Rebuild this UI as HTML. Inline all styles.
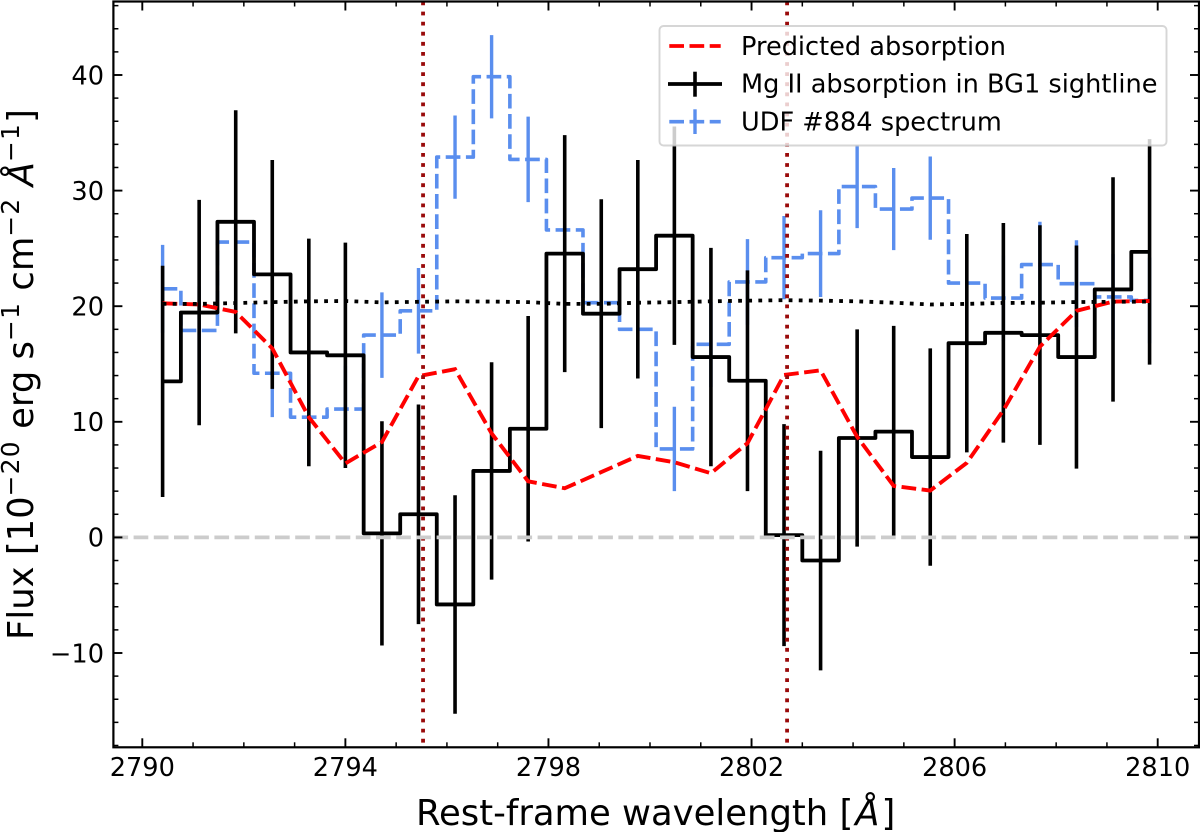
<!DOCTYPE html>
<html lang="en">
<head>
<meta charset="utf-8">
<title>Mg II absorption spectrum</title>
<style>
html,body{margin:0;padding:0;background:#fff;}
svg{display:block;}
text{font-family:"DejaVu Sans","Liberation Sans",sans-serif;fill:#000;}
.tick{font-size:25.6px;}
.lab{font-size:35.4px;}
.leg{font-size:25.6px;}
.sup{font-size:24.8px;letter-spacing:1.3px;}
</style>
</head>
<body>
<svg id="chart" xmlns="http://www.w3.org/2000/svg" width="1200" height="832" viewBox="0 0 1200 832">
  <rect x="0" y="0" width="1200" height="832" fill="#fff"/>
  <g id="series"></g>
  <g id="axes"></g>
  <text class="lab" x="416" y="825">Rest-frame wavelength [<tspan font-style="italic" dx="2">Å</tspan><tspan dx="2">]</tspan></text>
  <text class="lab" transform="translate(33,640) rotate(-90)">Flux [10<tspan class="sup" dy="-14">−20</tspan><tspan dy="14"> erg s</tspan><tspan class="sup" dy="-14">−1</tspan><tspan dy="14"> cm</tspan><tspan class="sup" dy="-14">−2</tspan><tspan dy="14"> </tspan><tspan font-style="italic">Å</tspan><tspan class="sup" dy="-14">−1</tspan><tspan dy="14">]</tspan></text>
  <g>
    <rect x="659.5" y="26" width="507" height="119.5" rx="4" ry="4" fill="#fff" fill-opacity="0.8" stroke="#ccc" stroke-opacity="0.8" stroke-width="1.9"/>
    <line x1="669.3" y1="46" x2="720.7" y2="46" stroke="#ff0000" stroke-width="3.8" stroke-dasharray="14.7 5.5"/>
    <text class="leg" x="741" y="55">Predicted absorption</text>
    <line x1="668" y1="84" x2="722" y2="84" stroke="#000" stroke-width="3.8"/>
    <line x1="695" y1="71.7" x2="695" y2="96.7" stroke="#000" stroke-width="3.6"/>
    <text class="leg" x="741" y="92.7">Mg II absorption in BG1 sightline</text>
    <line x1="669.3" y1="121.7" x2="720.7" y2="121.7" stroke="#5a8eee" stroke-width="3.6" stroke-dasharray="14.7 5.5"/>
    <line x1="695" y1="109.3" x2="695" y2="134" stroke="#5a8eee" stroke-width="3.4"/>
    <text class="leg" x="741" y="130.4">UDF #884 spectrum</text>
  </g>
</svg>
<script>
// Chart data
const binStart = 2790.4;
const binWidth = 0.72;
const blackFlux = [13.5,19.45,27.3,22.75,16.0,15.75,0.35,2.0,-5.8,5.75,9.4,24.55,19.35,23.2,26.1,15.6,13.55,0.2,-2.0,8.6,9.15,6.95,16.8,17.7,17.5,15.6,21.45,24.7];
const blackErr = [10.0,9.75,9.65,9.9,9.85,9.75,9.7,9.5,9.45,9.4,9.75,10.25,9.9,9.45,9.45,9.45,9.55,9.6,9.5,9.4,9.15,9.4,9.45,9.5,9.5,9.65,9.7,9.75];
const blueFlux = [21.5,17.9,25.55,14.2,10.4,11.1,17.5,19.6,32.9,39.85,32.7,26.6,20.3,18.0,7.65,16.7,22.1,24.2,24.55,30.35,28.4,29.35,22.0,20.7,23.6,21.95,20.8,20.5];
const blueErr = [3.8,3.8,3.8,3.8,3.75,3.75,3.7,3.7,3.6,3.6,3.7,3.8,3.7,3.7,3.65,3.7,3.7,3.6,3.75,3.6,3.55,3.6,3.7,3.7,3.7,3.75,3.7,3.7];
const predictedFlux = [20.25,20.15,19.5,16.35,10.4,6.4,8.25,13.95,14.55,9.0,4.85,4.25,5.65,7.05,6.5,5.55,8.15,14.05,14.45,8.7,4.45,4.05,6.45,11.0,16.5,19.6,20.4,20.45];
const continuumFlux = [20.2,20.2,20.27,20.35,20.42,20.45,20.33,20.38,20.42,20.4,20.35,20.2,20.2,20.3,20.35,20.42,20.48,20.52,20.48,20.42,20.3,20.15,20.2,20.28,20.3,20.36,20.38,20.4];
const lineCenters = [2795.53,2802.7];
const zeroLevel = [0];
const xMajorTicks = [2790,2794,2798,2802,2806,2810];
const xMinorTicks = [2791,2792,2793,2795,2796,2797,2799,2800,2801,2803,2804,2805,2807,2808,2809];
const yMajorTicks = [-10,0,10,20,30,40];
const yMinorTicks = [-18,-16,-14,-12,-8,-6,-4,-2,2,4,6,8,12,14,16,18,22,24,26,28,32,34,36,38,42,44,46];

// Axis functions
const plot = {left:113.4,right:1199,top:1.5,bottom:747.3};
const xScale = v => 142.3 + (v - 2790) * 50.77;
const yScale = v => 537.4 - v * 11.56;
const binCenters = blackFlux.map((_, i) => binStart + i * binWidth);

const NS = 'http://www.w3.org/2000/svg';
const seriesG = document.getElementById('series');
const axesG = document.getElementById('axes');

function make(parent, tag, attrs){
  const node = document.createElementNS(NS, tag);
  for (const k in attrs) node.setAttribute(k, attrs[k]);
  parent.appendChild(node);
  return node;
}
function stepPath(values){
  let d = 'M' + xScale(binCenters[0]).toFixed(2) + ' ' + yScale(values[0]).toFixed(2);
  for (let i = 1; i < values.length; i++){
    const mid = xScale((binCenters[i-1] + binCenters[i]) / 2).toFixed(2);
    d += 'H' + mid + 'V' + yScale(values[i]).toFixed(2);
  }
  d += 'H' + xScale(binCenters[values.length-1]).toFixed(2);
  return d;
}
function linePath(values){
  return values.map((v, i) => (i ? 'L' : 'M') + xScale(binCenters[i]).toFixed(2) + ' ' + yScale(v).toFixed(2)).join('');
}

// UDF spectrum
const blueStep = make(seriesG, 'path', {d:stepPath(blueFlux), fill:'none', stroke:'#5a8eee', 'stroke-width':3.6, 'stroke-dasharray':'14.7 5.5', 'stroke-linejoin':'round'});


blueFlux.forEach((v, i) => {
  const bar = make(seriesG, 'line', {x1:xScale(binCenters[i]), x2:xScale(binCenters[i]), y1:yScale(v - blueErr[i]), y2:yScale(v + blueErr[i]), stroke:'#5a8eee', 'stroke-width':3.4});
  
  
});

// Mg II absorption
blackFlux.forEach((v, i) => {
  const bar = make(seriesG, 'line', {x1:xScale(binCenters[i]), x2:xScale(binCenters[i]), y1:yScale(v - blackErr[i]), y2:yScale(v + blackErr[i]), stroke:'#000', 'stroke-width':3.6});
  
  
});
const blackStep = make(seriesG, 'path', {d:stepPath(blackFlux), fill:'none', stroke:'#000', 'stroke-width':3.8, 'stroke-linejoin':'round', 'stroke-linecap':'butt'});



// Predicted absorption
const redLine = make(seriesG, 'path', {d:linePath(predictedFlux), fill:'none', stroke:'#ff0000', 'stroke-width':3.9, 'stroke-dasharray':'14.7 5.5'});



// Continuum
const dotted = make(seriesG, 'path', {d:linePath(continuumFlux), fill:'none', stroke:'#000', 'stroke-width':3.8, 'stroke-dasharray':'3.8 6.3'});



// Rest wavelengths of the doublet
lineCenters.forEach(v => {
  const ln = make(seriesG, 'line', {x1:xScale(v), x2:xScale(v), y1:plot.top, y2:plot.bottom, stroke:'#990a0a', 'stroke-width':3.8, 'stroke-dasharray':'3.8 6.3'});
  
  
});

// Zero level
zeroLevel.forEach(v => {
  const ln = make(seriesG, 'line', {x1:plot.left, x2:plot.right, y1:yScale(v), y2:yScale(v), stroke:'#cccccc', 'stroke-width':3.8, 'stroke-dasharray':'14.7 5.5'});
  
  
});

// Ticks
xMajorTicks.forEach(v => {
  const x = xScale(v);
  const t1 = make(axesG, 'line', {x1:x, x2:x, y1:plot.bottom, y2:plot.bottom - 9, stroke:'#000', 'stroke-width':1.9});
  
  
  const t2 = make(axesG, 'line', {x1:x, x2:x, y1:plot.top, y2:plot.top + 9, stroke:'#000', 'stroke-width':1.9});
  
  
  const lab = make(axesG, 'text', {x:x, y:776, 'text-anchor':'middle', class:'tick'});
  lab.textContent = String(v);
  
  
});
xMinorTicks.forEach(v => {
  const x = xScale(v);
  const t1 = make(axesG, 'line', {x1:x, x2:x, y1:plot.bottom, y2:plot.bottom - 5, stroke:'#000', 'stroke-width':1.5});
  
  
  const t2 = make(axesG, 'line', {x1:x, x2:x, y1:plot.top, y2:plot.top + 5, stroke:'#000', 'stroke-width':1.5});
  
  
});
yMajorTicks.forEach(v => {
  const y = yScale(v);
  const t1 = make(axesG, 'line', {x1:plot.left, x2:plot.left + 9, y1:y, y2:y, stroke:'#000', 'stroke-width':1.9});
  
  
  const t2 = make(axesG, 'line', {x1:plot.right, x2:plot.right - 9, y1:y, y2:y, stroke:'#000', 'stroke-width':1.9});
  
  
  const lab = make(axesG, 'text', {x:104, y:y + 9.3, 'text-anchor':'end', class:'tick'});
  lab.textContent = String(v).replace('-', '\u2212');
  
  
});
yMinorTicks.forEach(v => {
  const y = yScale(v);
  const t1 = make(axesG, 'line', {x1:plot.left, x2:plot.left + 5, y1:y, y2:y, stroke:'#000', 'stroke-width':1.5});
  
  
  const t2 = make(axesG, 'line', {x1:plot.right, x2:plot.right - 5, y1:y, y2:y, stroke:'#000', 'stroke-width':1.5});
  
  
});
const frame = make(axesG, 'rect', {x:plot.left, y:plot.top, width:plot.right - plot.left, height:plot.bottom - plot.top, fill:'none', stroke:'#000', 'stroke-width':2.2});


</script>
</body>
</html>
